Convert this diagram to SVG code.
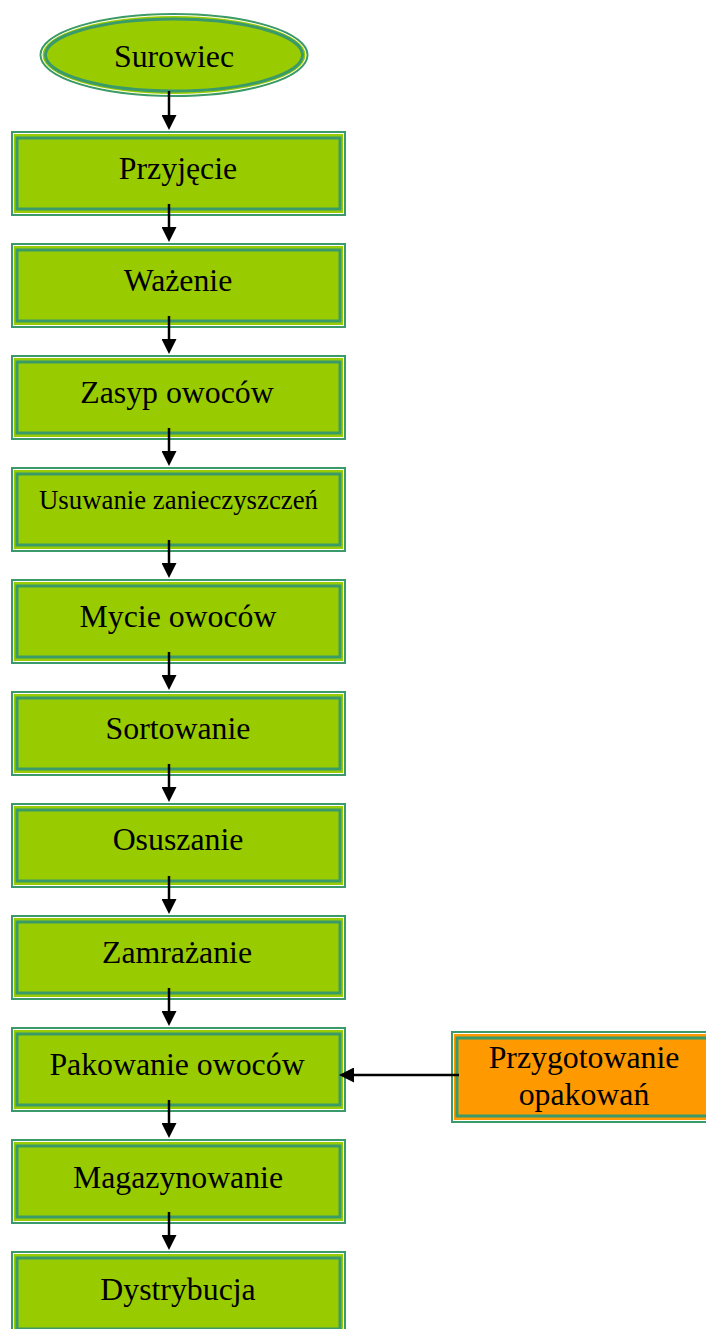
<svg xmlns="http://www.w3.org/2000/svg" width="706" height="1329" viewBox="0 0 706 1329">
<style>
.o{fill:#99cc00;stroke:#3a9a6a;stroke-width:2}
.oo{fill:#ff9900;stroke:#3a9a6a;stroke-width:2}
.w{fill:none;stroke:#ffffff;stroke-width:1}
.i{fill:none;stroke:#3a9a6a;stroke-width:3}
.t{font-family:"Liberation Serif","Times New Roman",serif;font-size:31.8px;fill:#000;text-anchor:middle}
.s{font-size:26.8px}
.c{fill:none;stroke:#000;stroke-width:2.5;marker-end:url(#ah)}
</style>
<defs>
<marker id="ah" viewBox="0 0 15 15" refX="3" refY="7.5" markerWidth="15" markerHeight="15" markerUnits="userSpaceOnUse" orient="auto">
<path d="M0,0 L15,7.5 L0,15 z" fill="#000"/>
</marker>
</defs>
<rect width="706" height="1329" fill="#fff"/>
<g id="surowiec">
<ellipse class="o" cx="174" cy="55" rx="133.5" ry="41"/>
<ellipse class="w" cx="174" cy="55" rx="132" ry="39.5"/>
<ellipse class="i" cx="174" cy="55" rx="128.5" ry="36"/>
<text class="t" x="174" y="66.5">Surowiec</text>
</g>
<g id="przyjecie">
<rect class="o" x="12" y="132" width="333" height="83"/>
<rect class="w" x="13.5" y="133.5" width="330" height="80"/>
<rect class="i" x="17" y="138" width="323" height="71"/>
<text class="t" x="178" y="178.5">Przyjęcie</text>
</g>
<g id="wazenie">
<rect class="o" x="12" y="244" width="333" height="83"/>
<rect class="w" x="13.5" y="245.5" width="330" height="80"/>
<rect class="i" x="17" y="250" width="323" height="71"/>
<text class="t" x="178" y="290.5">Ważenie</text>
</g>
<g id="zasyp">
<rect class="o" x="12" y="356" width="333" height="83"/>
<rect class="w" x="13.5" y="357.5" width="330" height="80"/>
<rect class="i" x="17" y="362" width="323" height="71"/>
<text class="t" x="177" y="402.5">Zasyp owoców</text>
</g>
<g id="usuwanie">
<rect class="o" x="12" y="468" width="333" height="83"/>
<rect class="w" x="13.5" y="469.5" width="330" height="80"/>
<rect class="i" x="17" y="474" width="323" height="71"/>
<text class="t s" x="178.5" y="508.5">Usuwanie zanieczyszczeń</text>
</g>
<g id="mycie">
<rect class="o" x="12" y="580" width="333" height="83"/>
<rect class="w" x="13.5" y="581.5" width="330" height="80"/>
<rect class="i" x="17" y="586" width="323" height="71"/>
<text class="t" x="178" y="626.5">Mycie owoców</text>
</g>
<g id="sortowanie">
<rect class="o" x="12" y="692" width="333" height="83"/>
<rect class="w" x="13.5" y="693.5" width="330" height="80"/>
<rect class="i" x="17" y="698" width="323" height="71"/>
<text class="t" x="178" y="738.5">Sortowanie</text>
</g>
<g id="osuszanie">
<rect class="o" x="12" y="804" width="333" height="83"/>
<rect class="w" x="13.5" y="805.5" width="330" height="80"/>
<rect class="i" x="17" y="810" width="323" height="71"/>
<text class="t" x="178" y="849.5">Osuszanie</text>
</g>
<g id="zamrazanie">
<rect class="o" x="12" y="916" width="333" height="83"/>
<rect class="w" x="13.5" y="917.5" width="330" height="80"/>
<rect class="i" x="17" y="922" width="323" height="71"/>
<text class="t" x="177" y="962.5">Zamrażanie</text>
</g>
<g id="pakowanie">
<rect class="o" x="12" y="1028" width="333" height="83"/>
<rect class="w" x="13.5" y="1029.5" width="330" height="80"/>
<rect class="i" x="17" y="1034" width="323" height="71"/>
<text class="t" x="177" y="1074.5">Pakowanie owoców</text>
</g>
<g id="magazynowanie">
<rect class="o" x="12" y="1140" width="333" height="83"/>
<rect class="w" x="13.5" y="1141.5" width="330" height="80"/>
<rect class="i" x="17" y="1146" width="323" height="71"/>
<text class="t" x="178" y="1187.5">Magazynowanie</text>
</g>
<g id="dystrybucja">
<rect class="o" x="12" y="1252" width="333" height="83"/>
<rect class="w" x="13.5" y="1253.5" width="330" height="80"/>
<rect class="i" x="17" y="1258" width="323" height="71"/>
<text class="t" x="178" y="1299.5">Dystrybucja</text>
</g>
<g id="przygotowanie">
<rect class="oo" x="452" y="1032" width="264" height="90"/>
<rect class="w" x="453.5" y="1033.5" width="261" height="87"/>
<rect class="i" x="457" y="1038" width="254" height="78"/>
<text class="t" x="584" y="1068">Przygotowanie</text>
<text class="t" x="584" y="1105">opakowań</text>
</g>
<g id="connectors">
<path class="c" d="M169,91 V118"/>
<path class="c" d="M169,204 V230"/>
<path class="c" d="M169,316 V342"/>
<path class="c" d="M169,428 V454"/>
<path class="c" d="M169,540 V566"/>
<path class="c" d="M169,652 V678"/>
<path class="c" d="M169,764 V790"/>
<path class="c" d="M169,876 V902"/>
<path class="c" d="M169,988 V1014"/>
<path class="c" d="M169,1100 V1126"/>
<path class="c" d="M169,1212 V1238"/>
<path class="c" d="M459,1075 H351"/>
</g>
</svg>
